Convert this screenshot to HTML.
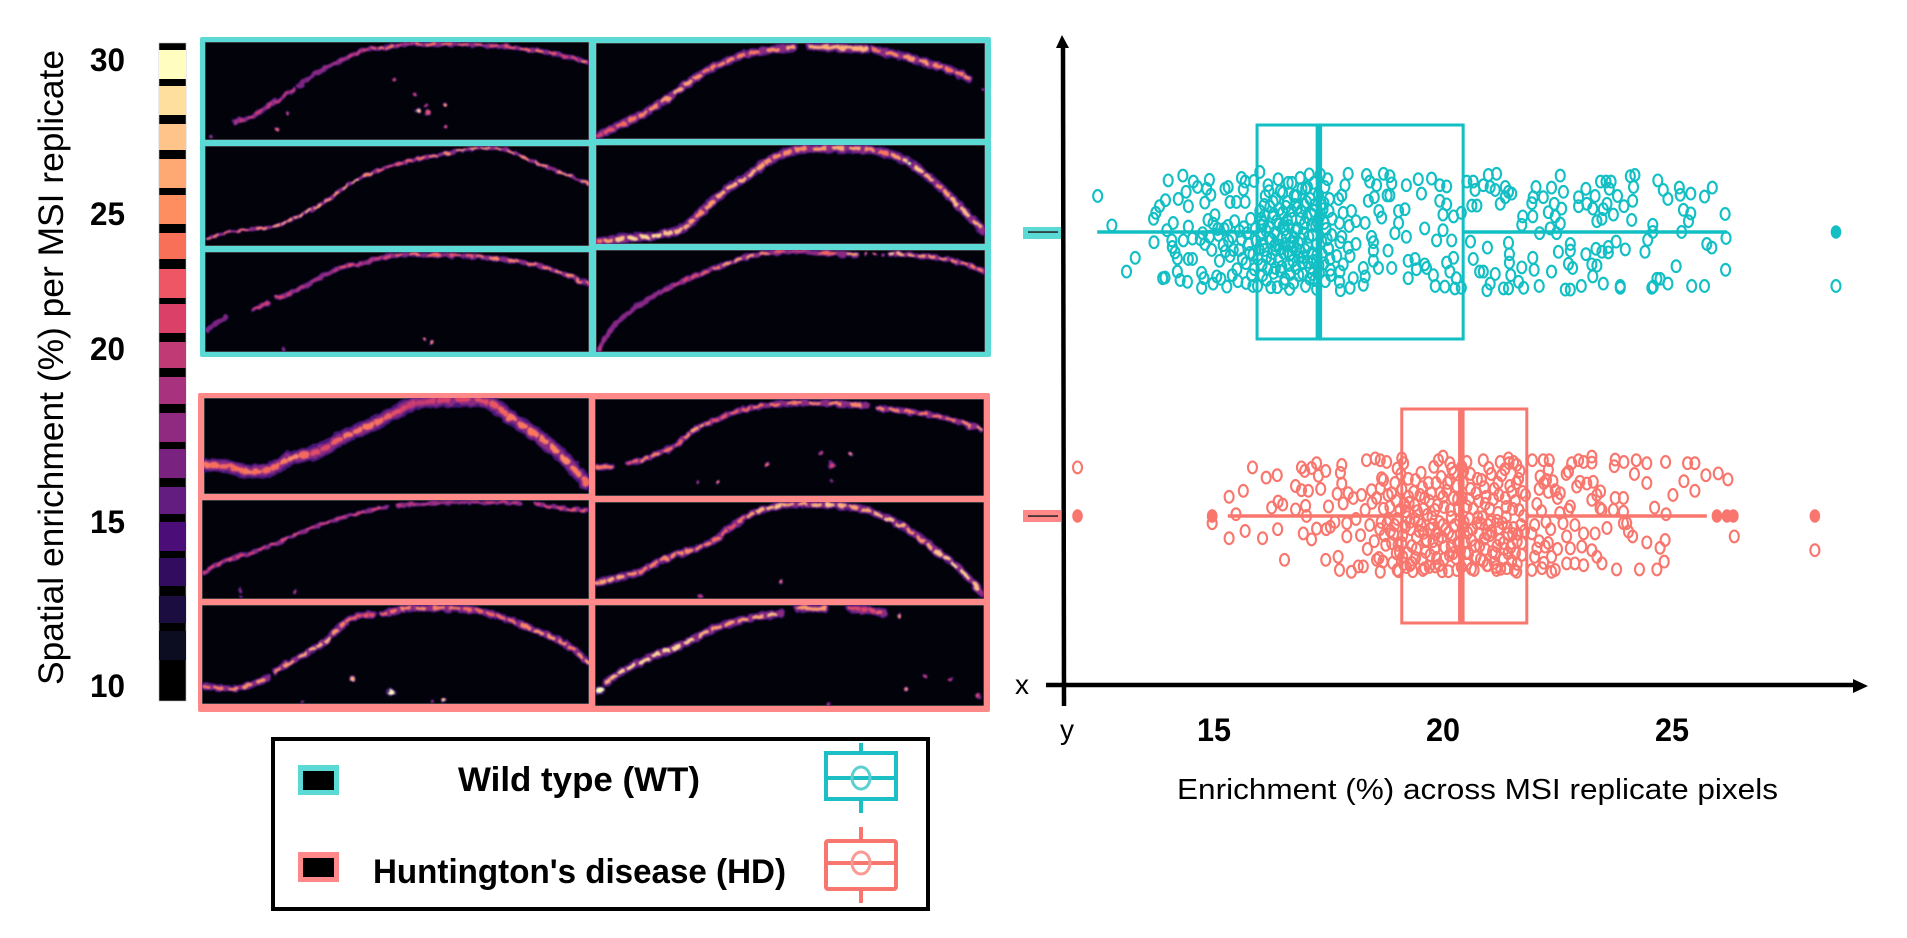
<!DOCTYPE html>
<html lang="en">
<head>
<meta charset="utf-8">
<title>Spatial enrichment in WT and HD MSI replicates</title>
<style>
html,body{margin:0;padding:0;background:#fff;width:1907px;height:938px;overflow:hidden}
svg{display:block}
text{font-family:"Liberation Sans",sans-serif;fill:#000}
.b{font-weight:bold}
</style>
</head>
<body>
<svg id="fig" xmlns="http://www.w3.org/2000/svg" width="1907" height="938" viewBox="0 0 1907 938">
<defs>
<filter id="soft" x="-5%" y="-20%" width="110%" height="140%">
<feTurbulence type="fractalNoise" baseFrequency="0.14" numOctaves="2" seed="7" result="n"/>
<feDisplacementMap in="SourceGraphic" in2="n" scale="5" xChannelSelector="R" yChannelSelector="G" result="d"/>
<feGaussianBlur in="d" stdDeviation="0.8"/>
</filter>
<filter id="softer" x="-10%" y="-10%" width="120%" height="120%"><feGaussianBlur stdDeviation="0.35"/></filter>
</defs>

<text transform="translate(63,685) rotate(-90)" font-size="35" textLength="635" lengthAdjust="spacingAndGlyphs">Spatial enrichment (%) per MSI replicate</text>
<g font-size="32" filter="url(#softer)">
<text class="b" x="90" y="71" textLength="35" lengthAdjust="spacingAndGlyphs">30</text>
<text class="b" x="90" y="225" textLength="35" lengthAdjust="spacingAndGlyphs">25</text>
<text class="b" x="90" y="360" textLength="35" lengthAdjust="spacingAndGlyphs">20</text>
<text class="b" x="90" y="533" textLength="35" lengthAdjust="spacingAndGlyphs">15</text>
<text class="b" x="90" y="697" textLength="35" lengthAdjust="spacingAndGlyphs">10</text>
</g>

<g filter="url(#softer)">
<rect x="159" y="43" width="27" height="658" fill="#020206" stroke="#bbb" stroke-width=".6"/>
<rect x="159" y="50" width="27" height="29" fill="#FFFDBF"/>
<rect x="159" y="86" width="27" height="29" fill="#FFDF9E"/>
<rect x="159" y="124" width="27" height="26" fill="#FFC48A"/>
<rect x="159" y="159" width="27" height="29" fill="#FEA973"/>
<rect x="159" y="195" width="27" height="29" fill="#FE8E5F"/>
<rect x="159" y="233" width="27" height="26" fill="#F97059"/>
<rect x="159" y="269" width="27" height="29" fill="#EF5765"/>
<rect x="159" y="304" width="27" height="29" fill="#DB4069"/>
<rect x="159" y="342" width="27" height="26" fill="#C03A76"/>
<rect x="159" y="377" width="27" height="27" fill="#A8327D"/>
<rect x="159" y="413" width="27" height="29" fill="#902A81"/>
<rect x="159" y="449" width="27" height="29" fill="#7A2180"/>
<rect x="159" y="487" width="27" height="27" fill="#641A80"/>
<rect x="159" y="522" width="27" height="29" fill="#4B1078"/>
<rect x="159" y="558" width="27" height="28" fill="#30105F"/>
<rect x="159" y="596" width="27" height="27" fill="#1B0C41"/>
<rect x="159" y="631" width="27" height="29" fill="#0B0723"/>
</g>

<rect x="200" y="37" width="791" height="320" rx="2" fill="#5BD9D5"/>
<rect x="198" y="393" width="792" height="319" rx="2" fill="#FF8888"/>
<g id="panels"></g>

<g>
<rect x="273" y="739" width="655" height="170" fill="#fff" stroke="#000" stroke-width="4"/>
<rect x="298" y="765" width="41" height="30" fill="#5BD9D5"/>
<rect x="303" y="771" width="31" height="19" fill="#000"/>
<rect x="298" y="852" width="41" height="30" fill="#FF8888"/>
<rect x="303" y="858" width="31" height="19" fill="#000"/>
<text class="b" x="458" y="791" font-size="34" textLength="242" lengthAdjust="spacingAndGlyphs">Wild type (WT)</text>
<text class="b" x="373" y="883" font-size="34" textLength="413" lengthAdjust="spacingAndGlyphs">Huntington's disease (HD)</text>
<g fill="none" stroke="#1CBFC3" stroke-width="4">
<rect x="826" y="753" width="70" height="46"/>
<path d="M826 778H896M861 743V753M861 799V813"/>
<ellipse cx="861" cy="778" rx="9" ry="11" stroke="#5CCFD1" stroke-width="3"/>
</g>
<g fill="none" stroke="#F8766D" stroke-width="4">
<rect x="826" y="841" width="70" height="48" rx="2"/>
<path d="M826 863H896M861 827V841M861 889V903"/>
<ellipse cx="861" cy="863" rx="9" ry="11" stroke="#FA9A93" stroke-width="3"/>
</g>
</g>

<g id="plot"></g>

<g>
<path d="M1063 46L1064 706" stroke="#000" stroke-width="4.5" fill="none"/>
<path d="M1062 35L1069 48H1056Z" fill="#000"/>
<path d="M1046 685H1856" stroke="#000" stroke-width="4.5" fill="none"/>
<path d="M1868 686L1853 679V693Z" fill="#000"/>
<rect x="1023" y="227" width="38" height="12" fill="#5BD9D5"/>
<rect x="1028" y="231.3" width="30" height="1.5" fill="#222"/>
<rect x="1023" y="510" width="38" height="12" fill="#FF8888"/>
<rect x="1028" y="515.3" width="30" height="1.5" fill="#222"/>
<text x="1015" y="694" font-size="28">x</text>
<text x="1060" y="739" font-size="28">y</text>
<text x="1177" y="799" font-size="29" textLength="601" lengthAdjust="spacingAndGlyphs">Enrichment (%) across MSI replicate pixels</text>
</g>
</svg>

<script>
// ---------- Enrichment plot values ----------
const xTickLabels = [15, 20, 25];
const groups = ['WT', 'HD'];
const wtBox = [15.94, 17.29, 20.44];
const hdBox = [19.1, 20.4, 21.83];
const wtWhisker = [12.45, 26.2];
const hdWhisker = [15.3, 25.76];
const wtOutliers = [28.58];
const hdOutliers = [12.02, 14.96, 14.96, 25.98, 26.2, 26.34, 28.12];

const wtPoints = [[12.46,-.6],[12.77,-.11],[13.09,.66],[13.28,.43],[13.69,.17],[13.68,-.22],[13.73,-.32],[13.81,-.43],[13.94,-.53],[14,-.86],[14.32,-.94],[14.22,-.55],[14.39,-.67],[14.44,-.43],[14.55,-.84],[14.64,-.75],[14.9,-.87],[14.84,-.72],[14.93,-.62],[14.8,-.49],[15.24,-.72],[15.31,-.75],[15.35,-.5],[15.49,-.5],[15.68,-.5],[15.6,-.9],[15.68,-.84],[15.64,-.71],[15.87,-.85],[16,-1],
[13.88,.77],[13.93,.76],[14.2,.66],[14.26,.8],[14.42,.83],[13.97,-.03],[14.11,-.15],[14.08,.14],[14.09,.25],[14.15,.34],[14.2,.44],[14.44,.45],[14.53,.45],[14.33,.14],[14.53,.11],[14.44,-.09],[14.73,.68],[14.73,.93],[14.78,.77],[14.98,.86],[15.06,.74],[15.28,.91],[15.15,.78],[14.7,.12],[14.8,.2],[14.9,.08],[14.95,.3],[15.02,-.28],[14.87,-.2],[14.98,-.14],[15.08,-.05],[14.75,.02],
[15.1,.05],[15.2,.22],[15.3,-.1],[15.35,.4],[15.4,.08],[15.45,-.18],[15.5,.62],[15.55,.3],[15.6,.12],[15.65,-.08],[15.7,.52],[15.75,.2],[15.8,-.22],[15.82,.72],[15.85,.38],[15.9,-.05],[15.92,.15],[15.95,.9],[16,-.35],[16.02,.05],[16.05,.55],[16.08,-.15],[16.1,.3],[16.12,-.6],[16.15,.8],[16.18,-.78],[16.2,.1],[16.22,-.42],[16.25,.45],[16.28,-.25],[16.3,.68],[16.32,.02],[16.35,-.55],[16.38,.92],[16.4,.22],[16.42,-.12],[16.45,-.68],[16.48,.58],[16.5,-.32],[16.52,.35],[16.55,.78],[16.58,.08],[16.6,-.5],[16.62,-.82],[16.65,.95],[16.68,.18],[16.7,-.22],[16.72,.48],[16.75,-.6],[16.78,-.02],[16.8,.28],[16.82,-.4],[16.85,.72],[16.88,-.9],[16.9,.12],[16.92,-.72],[16.95,.42],[16.98,-.15],[17,.9],[17.02,-.5],[17.05,.22],[17.08,-.96],[17.1,.6],[17.12,-.3],[17.15,.05],[17.18,-.82],[17.2,.8],[17.22,-.1],[17.25,.38],[17.28,-.62],[17.3,.68],[17.32,-.96],[17.35,.15],[17.38,-.38],[17.4,.52],[17.42,-.75],[17.45,-.05],[17.48,-.88],[17.5,.28],[17.52,-.55],[17.55,.72],[17.58,-.22],
[15.25,.32],[15.4,.72],[15.55,-.02],[15.7,.85],[15.78,.35],[15.88,.62],[15.98,.28],[16.06,.72],[16.14,-.02],[16.24,.92],[16.34,.6],[16.44,.28],[16.54,-.04],[16.64,.55],[16.74,.85],[16.84,.18],[16.94,.7],[17.04,-.75],[17.14,.35],[17.24,.95],[16.1,-.45],[16.2,-.68],[16.3,-.3],[16.4,-.88],[16.5,-.65],[16.6,-.2],[16.7,-.82],[16.8,-.6],[16.9,-.35],[17,-.72],[17.1,-.55],[17.2,-.45],[17.3,-.25],[17.4,-.48],[16.05,-.1],[16.15,.42],[16.25,.12],[16.35,.3],[16.45,.65],[16.55,.2],[16.65,.38],[16.75,.1],[16.85,.42],[16.95,.02],[17.05,.5],[17.15,.7],
[15.12,.48],[15.22,-.05],[15.32,.15],[15.42,.3],[15.52,.82],[15.62,.45],[15.72,.02],[15.85,.9],[15.96,.45],[16.03,-.22],[16.07,.2],[16.11,-.28],[16.17,.62],[16.21,-.08],[16.27,.35],[16.29,-.5],[16.33,.22],[16.37,-.18],[16.41,.48],[16.43,-.38],[16.47,.12],[16.51,-.1],[16.53,.85],[16.57,-.42],[16.61,.32],[16.63,-.1],[16.67,.7],[16.69,-.35],[16.73,.25],[16.77,-.45],[16.79,.6],[16.83,-.05],[16.87,.32],[16.89,-.22],[16.93,.52],[16.97,-.45],[16.99,.3],[17.03,-.25],[17.07,.08],[17.09,.78],[17.13,-.12],[17.17,.48],[17.19,-.35],[17.23,.22],[17.27,-.15],[17.29,.55],[17.33,-.45],[17.37,.38],[17.41,-.15],[17.43,.82],[17.47,.12],[17.51,-.35],[17.53,.45],[17.57,.05],
[17.93,-.97],[17.86,-.78],[17.79,-.61],[17.72,-.55],[18,-.35],[17.82,-.32],[17.74,-.15],[17.95,-.1],[18.1,-.18],[18.3,-.15],[18.37,-.52],[18.5,-.58],[18.33,-.95],[18.4,-.84],[18.55,-.78],[18.7,-.97],[18.84,-.93],[18.88,-.81],[18.78,-.61],[18.84,-.61],[18.6,-.35],[18.66,-.24],[19.03,-.35],[19.17,-.38],[18.95,.02],[19.2,.08],[19.03,-.15],[19.2,-.78],[19.53,-.64],[19.46,-.88],[19.75,-.89],[19.93,-.78],[20.08,-.76],[19.93,-.52],[20.08,-.46],[20,-.29],[20.4,-.32],[20.23,-.26],[19.86,.14],[20.19,.14],[19.6,-.06],[20,-.03],[20.6,.16],[20.66,.45],[20.52,-.84],[20.66,-.84],[20.7,-.7],[20.63,-.44],[20.74,-.44],
[18.44,.08],[18.48,.17],[18.48,.31],[18.48,.48],[18.59,.6],[18.8,.31],[18.88,.6],[18.26,.6],[18.3,.74],[18.26,.88],[18.04,.77],[17.97,.93],[17.74,.83],[17.76,.97],[17.97,.4],[18.1,.2],[17.93,.26],[17.79,.08],[17.75,.17],[17.82,.54],[17.75,.66],[17.5,.28],[17.54,.63],[17.68,.4],[19.24,.48],[19.39,.45],[19.24,.77],[19.42,.62],[19.6,.54],[19.64,.6],[19.79,.72],[19.83,.9],[20.08,.51],[20.23,.43],[20.15,.66],[20.04,.91],[20.29,.77],[20.26,.94],[20.4,.93],[20.8,.66],
[20.99,-.95],[21.17,-.97],[20.88,-.78],[21.03,-.75],[21.14,-.7],[21.36,-.75],[21.43,-.67],[21.5,-.64],[21.36,-.58],[21.25,-.47],[22.03,-.75],[22.19,-.58],[21.97,-.58],[21.94,-.48],[21.74,-.26],[21.96,-.26],[21.72,-.12],[22.37,-.74],[22.56,-.94],[22.63,-.67],[22.43,-.47],[22.59,-.39],[22.3,-.33],[22.45,-.26],[22.56,-.14],[22.34,-.06],[22.48,.02],[22.11,.02],[22.96,-.58],[22.96,-.43],[23.12,-.72],[23.14,-.47],[23.32,-.6],[23.27,-.39],[23.44,-.84],[23.56,-.84],[23.67,-.84],[23.63,-.72],[23.81,-.6],[23.58,-.47],[23.5,-.38],[23.72,-.29],[23.47,-.22],[23.36,-.18],[24.09,-.93],[24.19,-.95],[24.16,-.75],[24.14,-.52],[23.95,-.43],[24.12,-.2],[24.69,-.86],[24.81,-.7],[24.91,-.55],[25.16,-.74],[25.18,-.62],[25.41,-.64],[25.71,-.59],[25.88,-.74],[25.25,-.37],[25.41,-.31],[25.36,-.18],[26.16,-.3],[26.18,.1],[26.17,.63],[25.21,0],[24.58,-.12],[24.58,0],[24.47,.13],[23.78,.16],[24.41,.33],[23.98,.29],[25.76,.2],[25.87,.26],[23.61,.25],[23.61,.34],[23.47,.33],[23.34,.28],[23.12,.37],[22.78,.2],[22.78,.31],[22.52,.33],[22.74,.53],[22.83,.6],[23.25,.54],[23.36,.56],[23.27,.74],[21.96,.43],[21.99,.63],[22.37,.66],[21.72,.59],[21.48,.72],[21.65,.83],[21.76,.93],[22.1,.9],[21.43,.18],[21.45,.37],[21.45,.51],[20.97,.26],[21.14,.7],[20.88,.66],[21.03,.86],[20.96,.97],[21.32,.94],[21.43,.94],[22.67,.96],[22.78,.96],[23.02,.9],[23.5,.86],[23.87,.9],[23.87,.93],[24.56,.93],[24.59,.91],[24.67,.78],[24.74,.78],[24.91,.86],[25.09,.57],[25.43,.9],[25.71,.9],[28.58,.9]];

const hdPoints = [[12.02,-.81],[14.96,.12],[15.84,-.81],[15.33,-.32],[15.64,-.42],[15.48,-.03],[16.14,-.64],[16.38,-.68],[16.26,-.14],[16.4,-.24],[16.5,-.19],[15.33,.37],[15.68,.25],[16.06,.37],[16.39,.22],[16.54,.73],[16.78,-.11],[17.02,0],[17,-.17],[16.95,.29],[17.13,.39],[17.24,.21],[17.45,.22],[17.44,.73],[17.71,.68],[17.74,.9],[16.91,-.81],[16.98,-.75],[17.13,-.8],[17.24,-.88],[17.28,-.67],[17.44,-.75],[17.33,-.45],[16.78,-.5],[16.91,-.43],[17.06,-.42],[17.79,-.85],[17.76,-.72],[17.79,-.54],[17.69,-.37],[17.5,-.16],[17.54,.18],[17.64,.1],[17.9,.34],[17.9,.12],[17.93,-.38],[18.04,-.3],[17.82,-.21],[18,.93],[18.15,.84],[18.26,.84],[18.22,-.35],[18.44,-.43],[18.33,-.93],[18.52,-.96],[18.63,-.93],[18.77,-.9],[18.66,-.63],[18.63,-.46],[18.88,-.38],[19,-.79],[19.1,-.96],[19.14,-.88],[18.63,.93],[18.55,.73],[18.69,.76],[19,.9],[19.28,.82],[19.6,.87],[19.83,.84],[19.9,-.93],[20,-.99],[20.15,-.88],[20.19,-.79],[20.52,-.9],[20.41,-.82],
[18.1,.05],[18.2,.32],[18.3,-.1],[18.35,.55],[18.4,.15],[18.45,-.22],[18.5,.42],[18.55,-.3],[18.6,.7],[18.65,.1],[18.7,-.12],[18.75,.48],[18.8,-.35],[18.85,.25],[18.9,.78],[18.95,-.55],[19,.05],[19.05,.6],[19.08,-.7],[19.12,.32],[19.15,-.2],[19.2,.85],[19.24,-.62],[19.28,.1],[19.32,.5],[19.36,-.4],[19.4,.7],[19.44,-.08],[19.48,.25],[19.52,-.72],[19.56,.9],[19.6,-.3],[19.64,.4],[19.68,-.55],[19.72,.65],[19.76,.02],[19.8,-.82],[19.84,.3],[19.88,-.18],[19.92,.82],[19.96,-.65],[20,.15],[20.04,.52],[20.08,-.42],[20.12,.92],[20.16,-.1],[20.2,.35],[20.24,-.72],[20.28,.7],[20.32,-.28],[20.36,.08],[20.4,.85],[20.44,-.55],[20.48,.42],[20.52,-.16],[20.56,.62],[20.6,-.7],[20.64,.22],[20.68,.9],[20.72,-.38],[20.76,.02],[20.8,.5],[20.84,-.6],[20.88,.75],[20.92,-.2],[20.96,.3],[21,-.8],[21.04,.1],[21.08,.6],[21.12,-.45],[21.16,.85],[21.2,-.05],[21.24,.4],[21.28,-.68],[21.32,.72],[21.36,-.3],[21.4,.18],[21.44,-.88],[21.48,.52],[21.52,-.12],[21.56,.9],[21.6,-.55],[21.64,.3],[21.68,-.75],[21.72,.65],[21.76,0],
[18.92,.3],[19.02,.48],[19.12,.68],[19.22,.02],[19.32,.78],[19.42,.35],[19.52,.15],[19.62,.6],[19.72,.22],[19.82,.55],[19.92,.1],[20.02,.72],[20.12,.28],[20.22,.62],[20.32,.45],[20.42,.2],[20.52,.8],[20.62,.4],[20.72,.68],[20.82,.12],[20.92,.55],[21.02,.32],[21.12,.78],[21.22,.2],[21.32,.45],[21.42,.62],[21.52,.3],[21.62,.8],[21.72,.45],[19.1,-.45],[19.25,-.32],[19.4,-.6],[19.55,-.48],[19.7,-.25],[19.85,-.55],[20,-.32],[20.15,-.6],[20.3,-.5],[20.45,-.75],[20.6,-.45],[20.75,-.62],[20.9,-.48],[21.05,-.7],[21.2,-.55],[21.35,-.78],[21.5,-.4],[21.65,-.62],[21.8,-.35],[18.7,-.6],[18.82,.05],[18.98,.62],[19.18,.18],[19.38,.05],[19.58,.28],[19.78,.42],[19.98,.35],[20.18,.5],[20.38,.3],[20.58,.05],[20.78,.3],[20.98,.15],[21.18,.5],[21.38,.02],[21.58,.62],[21.78,.25],
[18.62,.22],[18.72,.32],[18.78,.12],[18.84,-.15],[18.88,.45],[18.94,.15],[18.98,-.25],[19.03,.92],[19.06,-.1],[19.1,.45],[19.14,.8],[19.18,-.08],[19.22,.62],[19.26,-.22],[19.3,.22],[19.34,.92],[19.38,-.18],[19.42,.55],[19.46,.08],[19.5,-.35],[19.54,.72],[19.58,-.12],[19.62,.42],[19.66,-.02],[19.7,.85],[19.74,-.38],[19.78,.15],[19.82,-.1],[19.86,.7],[19.9,.38],[19.94,-.38],[19.98,.92],[20.02,-.15],[20.06,.22],[20.1,-.55],[20.14,.65],[20.18,.02],[20.22,-.3],[20.26,.15],[20.3,.9],[20.34,-.12],[20.38,.58],[20.42,-.3],[20.46,.1],[20.5,.62],[20.54,.28],[20.58,-.28],[20.62,.88],[20.66,-.12],[20.7,.5],[20.74,.12],[20.78,-.25],[20.82,.72],[20.86,.02],[20.9,.38],[20.94,-.32],[20.98,.82],[21.02,-.12],[21.06,.25],[21.1,-.28],[21.14,.62],[21.18,.08],[21.22,-.35],[21.26,.88],[21.3,.12],[21.34,.55],[21.38,-.15],[21.42,.3],[21.46,-.5],[21.5,.75],[21.54,.2],[21.58,-.25],[21.62,.42],[21.66,-.1],[21.7,.15],[21.74,-.4],
[20.88,-.93],[21.25,-.9],[21.43,-.96],[21.54,-.9],[21.61,-.85],[21.95,-.93],[22.19,-.93],[22.32,-.93],[22.3,-.77],[22.74,-.74],[22.69,-.7],[22.81,-.88],[22.96,-.93],[23.07,-.9],[23.25,-.99],[23.25,-.89],[23.76,-.94],[23.74,-.83],[23.95,-.9],[24.22,-.93],[24.45,-.88],[24.18,-.7],[24.45,-.55],[24.86,-.9],[25.34,-.88],[25.5,-.88],[25.26,-.58],[25.5,-.42],[25.02,-.35],[25.74,-.68],[26.01,-.71],[26.22,-.61],[24.62,-.14],[24.87,-.03],[23.94,-.3],[23.76,-.3],[23.94,-.07],[23.72,-.1],[23.47,-.1],[23.43,-.13],[23.44,-.41],[23.36,-.35],[23.25,-.27],[23.28,-.57],[23.14,-.54],[22.99,-.57],[22.92,-.49],[22.45,-.43],[22.56,-.38],[22.26,-.6],[22.12,-.66],[22.78,-.16],[22.74,-.1],
[23.58,.2],[23.94,.12],[24.01,.12],[24.05,.26],[24.14,.34],[24.45,.44],[24.85,.4],[24.74,.53],[24.83,.76],[24.67,.89],[24.29,.89],[23.79,.89],[26.36,.34],[28.12,.57],[23.47,.79],[23.36,.68],[23.25,.57],[23.07,.82],[22.88,.79],[22.7,.79],[23.03,.51],[22.78,.54],[23.32,.29],[23.07,.29],[22.88,.15],[22.7,.34],[22.45,.9],[22.37,.93],[22.37,.68],[22.23,.51],[22.05,.54],[21.94,.29],[22.16,.87],[21.94,.9],[21.61,.93],[21.39,.87],[21.17,.9],[20.96,.82],[22.1,-.45],[22.2,-.55],[22.3,-.4],[22.4,-.58],[22.5,-.3],[22.05,-.2],[22.15,-.08],[22.25,.1],[22.35,.22],[22.55,-.05],[22.62,.12],[22,.15],[22.1,.42],[22.3,.45],[22.5,.55],[22,.68],[22.2,.78]];

// ---------- Panel curve values (image column %, image row %, intensity 0-1) ----------
const t1Curve = [[7.7,81,.45],[12.4,75.5,.55],[18.4,60.7,.5],[23.2,49,.55],null,[24.4,45,.3],[26.4,38.6,.3],[31.4,26.6,.4],[36.4,17.4,.5],[41.4,7.8,.55],[46.3,6.1,.75],[52.3,2.7,.45],[56.3,2,.7],[66.3,2.7,.65],[76.3,4.4,.6],[86.3,8.8,.7],[94.3,14.7,.5],[100,21.5,.9]];
const t1Spots = [[49.4,38,.5,2.4],[54.7,54,.5,2.4],[57.5,65,.4,2],[62.6,64,.7,2.4],[55.5,70,.85,3],[58,72,.55,3],[21.5,73,.55,2.2],[18.8,89,.6,2.4],[62.6,86,.55,2.4],[1.5,97,.35,2.6]];
const t2Curve = [[.5,93,.75],[6.5,86,.65],[17.9,80.3,.8],[22.4,73.7,.8],[26.4,66,.85],[32.4,52.7,.75],[38.4,36,.85],[46.3,22.7,.6],[52.3,16,.65],[60.3,9.3,.75],[69.2,3.3,.8],[77.2,3.3,.75],[86.2,16.7,.75],[100,37.7,.8]];
const t2Spots = [];
const t3Curve = [[.5,78,.3],[5.4,64.8,.45],null,[12.9,56.4,.55],[16.4,51.3,.5],null,[18.4,45.6,.6],[22.4,41.3,.5],[31.4,22.8,.4],[36.4,14.4,.65],[41.4,11.1,.4],[45.4,6,.55],[53.4,2.7,.7],[66.3,3.7,.6],[74.2,6,.75],[86.2,12.8,.7],[94.1,22.8,.75],[100,32.9,.7]];
const t3Spots = [[57,88,.65,2.6],[59,90,.7,2.4],[20.5,98,.35,2.2]];
const t4Curve = [[.3,97,.55],[7.2,83.3,.7],[14,69.4,.75],[21.7,47.9,.85],[27.7,30.6,.7],[32.8,20.8,.75],[39.6,10.4,.7],[50.8,4.5,.85],null,[55,3.5,.85],[69.6,6.2,.7],null,[71.3,6.9,.7],[81.6,16.7,.8],[90.2,27,.7],[95.7,36.5,.75]];
const t4Spots = [[99.3,48,.35,1.6]];
const t5Curve = [[.3,98,.7],[7,94.6,.95],[14.8,92,.95],[21.7,85,.85],[26,72,.75],[32.8,47,.85],[39.6,30,.85],[44.8,15,.75],[51.6,5,.75],[63.6,3.4,.85],[73,6.7,.7],[80.7,18.5,.95],[87.6,40,.75],[92.7,59,.9],[99.6,87,.8]];
const t5Spots = [[80.7,18,1,3]];
const t6Curve = [[.7,97,.5],[3.7,79,.35],[7.1,65.6,.35],[13,49,.35],[20,34.4,.5],[26,24.6,.6],[32.8,14.8,.8],[40.5,4.9,.8],[50.8,1.6,.5],[67,4.9,.9],null,[75.6,3.9,.9],[81.6,4.9,.8],[88.5,8.2,.75],[95.3,13.8,.7],[99.6,21.3,.7]];
const t6Spots = [[69.4,4,.6,2],[71.8,4,.6,2],[73.8,5,.35,2]];
const h1Curve = [[.3,70,.7],[5.8,71,.65],[10.7,76,.7],[16.7,75,.65],[22.6,62.7,.75],[29.6,55.7,.55],[36.5,40,.7],[43.5,27.9,.7],[49.4,15.7,.6],[54.4,6.3,.5],[61.3,2.4,.55],[73.2,3.5,.6],[79.2,19,.7],[86.2,38,.7],[93.1,61,.75],[99.4,89,.65]];
const h1Spots = [];
const h2Curve = [[.5,74,.55],[5.1,62.6,.6],[12,54,.55],[19.1,44,.6],[27,30.3,.55],[37,17,.55],[47.6,6.7,.6],null,[50.6,6,.5],[58.5,3.4,.45],[66.4,2.7,.4],[75.3,2.7,.55],[82.2,2.7,.45],null,[86.2,4,.55],[93.1,8.4,.6],[100,10.1,.65]];
const h2Spots = [[9.8,91,.3,2.2],[24,93,.4,2],[9.8,98,.2,2]];
const h3Curve = [[.5,82,.7],[9,84,.75],[17,74,.8],null,[18.9,67,.75],[26.8,49,.85],[31.8,37,.85],[36.8,18.5,.7],[40.2,11,.6],[44.2,10,.6],null,[46.6,9,.65],[53.5,3.4,.75],[64.4,3.4,.7],[72.3,6.7,.65],[79.2,15,.7],[88,28.5,.8],[95,42,.7],[100,58.7,.85]];
const h3Spots = [[38.8,74,.8,3],[48.8,88,1,4.5],[62.5,96,.85,2.6],[26,98,.35,2],[59.5,98,.4,1.8]];
const h4Curve = [[.2,71,.7],[4.3,69.7,.65],null,[8.6,66,.6],[13.3,61,.75],[21,47,.65],[26.1,30,.85],[30.4,23,.6],[36.4,12.8,.65],[45,5.9,.7],[57.8,4.1,.75],[69.8,6.9,.75],null,[72.8,9.3,.75],[81.8,13.8,.7],[90.4,19.7,.7],[99.4,31.7,.8]];
const h4Spots = [[58,55,.45,2.4],[65.7,56.5,.7,3],[60.7,68,.5,4],[44.1,68,.6,2.4],[26.3,86,.4,2.2],[31.5,86,.65,2.4],[60.7,83,.3,2]];
const h5Curve = [[.2,83.5,.8],[4.7,79.4,.85],[11.6,71.5,.7],[18.4,57.7,.75],[23.6,50.9,.75],[29.6,42.3,.7],[34.7,26.8,.6],[40.7,11.3,.85],[46.7,4.5,.9],[51,2.7,.8],[59.6,2.7,.9],[67.3,6.2,.8],[75,16.5,.9],[81.8,32,.75],[87.8,51,.9],[93,66,.95],[99.4,93.8,.85]];
const h5Spots = [[48,82,.65,2.8],[27,97,.45,2.6]];
const h6Curve = [[3,76.5,.85],[7.3,65,.95],[15,50.3,.95],[21.8,40.4,.95],[30.4,23.8,.8],[39,13.9,.8],[47.6,8.3,.95],null,[52.3,3.3,.8],[59.1,3.3,.75],null,[65.5,3.3,.6],[69.8,5,.55],[74.1,7.6,.7]];
const h6Spots = [[1.3,84,1,5],[78.2,10.6,.7,2.8],[84.8,70,.45,2.6],[91.5,73.5,.45,2.6],[80,83.4,.7,2.6],[98.5,90,.5,3.4],[60,98.7,.4,2]];

// colour ramp used by the panels
const magmaStops = ['#1B0C41', '#4B1078', '#7A2180', '#A8327D', '#DB4069', '#F97059', '#FE9F6D', '#FECF92', '#FCFDBF'];

const NS = 'http://www.w3.org/2000/svg';
const panelsLayer = document.getElementById('panels');
const plotLayer = document.getElementById('plot');

function make(tag, parent, attrs) {
  const el = document.createElementNS(NS, tag);
  for (const k in attrs) el.setAttribute(k, attrs[k]);
  parent.appendChild(el);
  return el;
}
function magma(t) {
  const p = Math.max(0, Math.min(1, t)) * (magmaStops.length - 1);
  const i = Math.min(magmaStops.length - 2, Math.floor(p));
  const f = p - i;
  const a = parseInt(magmaStops[i].slice(1), 16), b = parseInt(magmaStops[i + 1].slice(1), 16);
  const ch = s => Math.round(((a >> s) & 255) * (1 - f) + ((b >> s) & 255) * f);
  return 'rgb(' + ch(16) + ',' + ch(8) + ',' + ch(0) + ')';
}
// Rounds a run of curve readings for drawing (Catmull-Rom through the read points)
function rounded(run) {
  if (run.length < 3) return run;
  const out = [];
  for (let i = 0; i < run.length - 1; i++) {
    const p0 = run[Math.max(0, i - 1)], p1 = run[i], p2 = run[i + 1], p3 = run[Math.min(run.length - 1, i + 2)];
    for (let s = 0; s < 5; s++) {
      const t = s / 5, t2 = t * t, t3 = t2 * t;
      const cr = k => .5 * (2 * p1[k] + (p2[k] - p0[k]) * t + (2 * p0[k] - 5 * p1[k] + 4 * p2[k] - p3[k]) * t2 + (3 * p1[k] - p0[k] - 3 * p2[k] + p3[k]) * t3);
      out.push([cr(0), cr(1), p1[2] * (1 - t) + p2[2] * t]);
    }
  }
  out.push(run[run.length - 1]);
  return out;
}

function drawPanel(id, curve, spots, x, y, w, h, thick) {
  const colScale = c => c / 100 * w;
  const rowScale = r => r / 100 * h;
  const holder = make('svg', panelsLayer, { x: x, y: y, width: w, height: h, viewBox: '0 0 ' + w + ' ' + h });
  
  
  const bg = make('rect', holder, { width: w, height: h, fill: '#02020A', stroke: '#777', 'stroke-width': 1 });
  
  
  const g = make('g', holder, { filter: 'url(#soft)', fill: 'none', 'stroke-linecap': 'round', 'stroke-linejoin': 'round' });
  
  

  const runs = [];
  let cur = [];
  curve.forEach(p => {
    if (p === null) { runs.push(cur); cur = []; } else cur.push(p);
  });
  runs.push(cur);

  runs.forEach(raw => {
    const run = rounded(raw);
    const d = run.map((p, i) => (i ? 'L' : 'M') + colScale(p[0]).toFixed(1) + ' ' + rowScale(p[1]).toFixed(1)).join('');
    const outer = make('path', g, { d: d, stroke: '#46187A', 'stroke-width': thick * 1.2 });
    
    
    const mid = make('path', g, { d: d, stroke: '#8A2A80', 'stroke-width': thick * .8 });
    
    
    for (let i = 0; i < run.length - 1; i += 2) {
      const a = run[i], b = run[Math.min(run.length - 1, i + 1)];
      const core = make('line', g, {
        x1: colScale(a[0]), y1: rowScale(a[1]), x2: colScale(b[0]), y2: rowScale(b[1]),
        stroke: magma(a[2] - .06), 'stroke-width': thick * .42
      });
      
      
    }
  });

  spots.forEach(s => {
    const halo = make('circle', g, { cx: colScale(s[0]), cy: rowScale(s[1]), r: s[3], fill: '#54207F', stroke: 'none' });
    
    
    const spot = make('circle', g, { cx: colScale(s[0]), cy: rowScale(s[1]), r: s[3] * .55, fill: magma(s[2]), stroke: 'none' });
    
    
  });
}

drawPanel('wt-1', t1Curve, t1Spots, 205, 42, 384, 98, 4.4);
drawPanel('wt-3', t2Curve, t2Spots, 205, 146, 384, 100, 3.6);
drawPanel('wt-5', t3Curve, t3Spots, 205, 252, 384, 100, 4.6);
drawPanel('wt-2', t4Curve, t4Spots, 596, 43, 389, 96, 7.5);
drawPanel('wt-4', t5Curve, t5Spots, 596, 145, 389, 99, 8);
drawPanel('wt-6', t6Curve, t6Spots, 596, 250, 389, 102, 5);
drawPanel('hd-1', h1Curve, h1Spots, 204, 398, 385, 96, 12);
drawPanel('hd-3', h2Curve, h2Spots, 202, 500, 387, 99, 4);
drawPanel('hd-5', h3Curve, h3Spots, 202, 605, 387, 99, 6.4);
drawPanel('hd-2', h4Curve, h4Spots, 595, 399, 389, 97, 5.6);
drawPanel('hd-4', h5Curve, h5Spots, 595, 502, 389, 97, 6.6);
drawPanel('hd-6', h6Curve, h6Spots, 595, 605, 389, 101, 7.5);

// ---------- Scales ----------
function xScale(v) { return 1214 + (v - 15) * 45.8; }
function yScale(group) { return 232 + groups.indexOf(group) * 284; }
function jitterScale(j) { return j * 60; }
const boxHalf = 107;

function drawGroup(group, color, box, whisker, outliers, points) {
  const key = group.toLowerCase();
  const cy = yScale(group);
  const g = make('g', plotLayer, {});
  
  

  const rect = make('rect', g, { x: xScale(box[0]), y: cy - boxHalf, width: xScale(box[2]) - xScale(box[0]), height: boxHalf * 2, fill: 'none', stroke: color, 'stroke-width': 3 });
  
  

  const med = make('line', g, { x1: xScale(box[1]), x2: xScale(box[1]), y1: cy - boxHalf, y2: cy + boxHalf, stroke: color, 'stroke-width': 6.5 });
  
  

  const wl = make('line', g, { x1: xScale(whisker[0]), x2: xScale(box[0]), y1: cy, y2: cy, stroke: color, 'stroke-width': 3.4 });
  
  

  const wh = make('line', g, { x1: xScale(box[2]), x2: xScale(whisker[1]), y1: cy, y2: cy, stroke: color, 'stroke-width': 3.4 });
  
  

  outliers.forEach(v => {
    const o = make('ellipse', g, { cx: xScale(v), cy: cy, rx: 5.3, ry: 6.8, fill: color });
    
    
  });

  points.forEach(p => {
    const c = make('ellipse', g, { cx: xScale(p[0]), cy: cy + jitterScale(p[1]), rx: 4.5, ry: 5.9, fill: 'none', stroke: color, 'stroke-width': 2.1 });
    
    
  });
}

drawGroup('WT', '#12BFC4', wtBox, wtWhisker, wtOutliers, wtPoints);
drawGroup('HD', '#F8766D', hdBox, hdWhisker, hdOutliers, hdPoints);

xTickLabels.forEach(t => {
  const label = make('text', plotLayer, { x: xScale(t), y: 741, 'font-size': 32, 'text-anchor': 'middle', 'font-weight': 'bold', textLength: 34, lengthAdjust: 'spacingAndGlyphs' });
  
  
  label.textContent = t;
});
</script>
</body>
</html>
